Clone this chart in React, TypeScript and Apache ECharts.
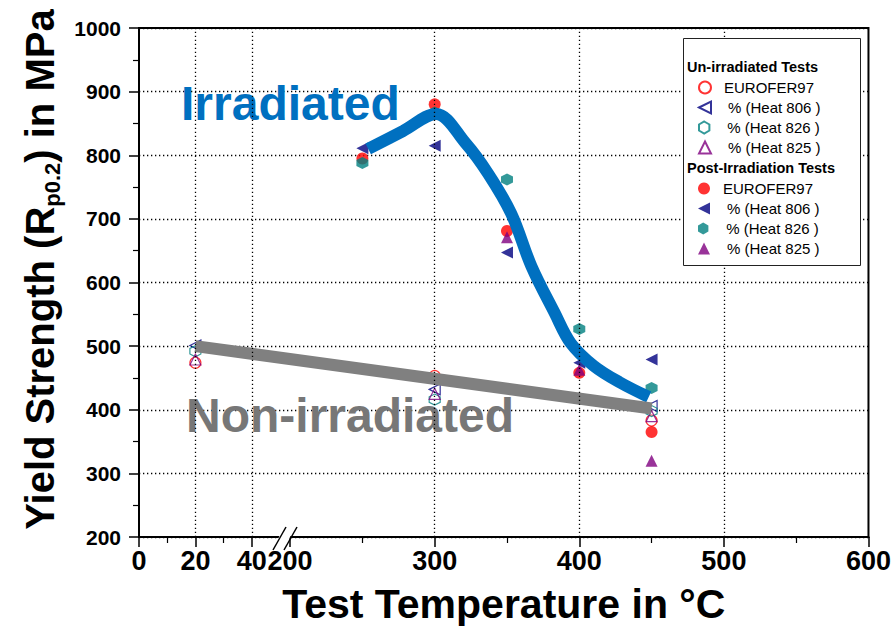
import React, { useEffect, useRef } from 'react';
import * as echarts from 'echarts';

const FONT = '"Liberation Sans", Arial, Helvetica, sans-serif';

// ---- axis ticks ----
const xTickTemps = [0, 20, 40, 200, 300, 400, 500, 600];
const xMinorTemps = [10, 30, 250, 350, 450, 550];
const xGridTemps = [20, 40, 300, 400, 500];
const yMin = 200;
const yMax = 1000;

// ---- un-irradiated tests: [temperature °C, Rp0.2 MPa] ----
const unEurofer = [[20, 474], [300, 453], [450, 383]];
const unHeat806 = [[20, 501], [300, 432], [450, 406]];
const unHeat826 = [[20, 492], [300, 416], [450, 398]];
const unHeat825 = [[20, 479], [300, 425], [450, 390]];

// ---- post-irradiation tests ----
const irEurofer = [[250, 795], [300, 880], [350, 681], [400, 458], [450, 365]];
const irHeat806 = [[250, 811], [300, 815], [350, 647], [400, 474], [450, 479]];
const irHeat826 = [[250, 788], [300, 867], [350, 762], [400, 527], [450, 434]];
const irHeat825 = [[350, 671], [400, 463], [450, 320]];

// ---- trend curves ----
const irradiatedTrendT = [254, 278, 301, 321, 337, 353, 367, 383, 394, 410, 428, 448];
const irradiatedTrendV = [810, 838, 865, 820, 771, 708, 625, 552, 505, 469, 443, 420];
const nonIrrTrendT = [20, 450];
const nonIrrTrendV = [500, 402];

// ---- legend ----
const legendNames = ['u_eur', 'u_806', 'u_826', 'u_825', 'p_eur', 'p_806', 'p_826', 'p_825'];
const legendLabels = [
  'EUROFER97', '% (Heat 806 )', '% (Heat 826 )', '% (Heat 825 )',
  'EUROFER97', '% (Heat 806 )', '% (Heat 826 )', '% (Heat 825 )',
];
const legendRowY = [87, 107, 127, 147, 188, 208, 228, 248];

// broken axis: 0..40 stretched, then 200..600
const LOW_ORIGIN = 95.5;
const LOW_SCALE = 1.95;
const toAxis = (t: number) => (t <= 40 ? LOW_ORIGIN + t * LOW_SCALE : t);
const fromAxis = (v: number) => (v < 190 ? Math.round((v - LOW_ORIGIN) / LOW_SCALE) : Math.round(v));
const mapPts = (pts: number[][]) => pts.map(([t, v]) => [toAxis(t), v]);

const LEFT_TRI = 'path://M0,5L10,0L10,10Z';
const UP_TRI = 'path://M5,0L10,10L0,10Z';
const HEX = 'path://M5,0L9.33,2.5L9.33,7.5L5,10L0.67,7.5L0.67,2.5Z';

const RED = '#ff0000';
const NAVY = '#000080';
const TEAL = '#008080';
const PURPLE = '#800080';

function openSeries(name: string, data: number[][], symbol: string, color: string) {
  return {
    type: 'scatter',
    name,
    data: mapPts(data),
    symbol,
    symbolSize: 11,
    z: 2,
    itemStyle: { color: 'rgba(255,255,255,0)', borderColor: color, borderWidth: 1.2 },
  };
}
function filledSeries(name: string, data: number[][], symbol: string, color: string) {
  return {
    type: 'scatter',
    name,
    data: mapPts(data),
    symbol,
    symbolSize: 12,
    z: 2,
    itemStyle: { color },
  };
}

export default function App() {
  const ref = useRef<HTMLDivElement>(null);
  useEffect(() => {
    if (!ref.current) return;
    const chart = echarts.init(ref.current, undefined, { renderer: 'svg' });
    const legends = legendNames.map((n, i) => ({
      orient: 'vertical',
      left: 698,
      top: legendRowY[i] - 7,
      padding: 0,
      itemWidth: 12,
      itemHeight: 12,
      selectedMode: false,
      z: 7,
      data: [n],
      formatter: () => legendLabels[i],
      textStyle: {
        fontFamily: FONT,
        fontSize: 15,
        color: '#000',
        lineHeight: 14,
        padding: [0, 0, 0, legendLabels[i].startsWith('%') ? 12 : 8],
      },
    }));
    const option: any = {
      animation: false,
      backgroundColor: '#fff',
      grid: {
        left: 139,
        right: 25,
        top: 28,
        bottom: 91,
        show: true,
        borderColor: '#000',
        borderWidth: 2,
        backgroundColor: 'rgba(0,0,0,0)',
      },
      xAxis: [
        {
          type: 'value',
          min: toAxis(0),
          max: 600,
          name: 'Test Temperature in °C',
          nameLocation: 'middle',
          nameGap: 46,
          nameTextStyle: { fontFamily: FONT, fontSize: 41, fontWeight: 'bold', color: '#000' },
          axisLine: { lineStyle: { color: '#000', width: 2 } },
          axisTick: {
            show: true,
            length: 10,
            lineStyle: { color: '#000', width: 1.5 },
            customValues: xTickTemps.map(toAxis),
          },
          axisLabel: {
            customValues: xTickTemps.map(toAxis),
            formatter: (v: number) => String(fromAxis(v)),
            fontFamily: FONT,
            fontSize: 27,
            fontWeight: 'bold',
            color: '#000',
            margin: 10,
          },
          splitLine: { show: false },
        },
        {
          type: 'value',
          min: toAxis(0),
          max: 600,
          position: 'bottom',
          axisLine: { show: false },
          axisLabel: { show: false },
          axisTick: {
            show: true,
            length: 6,
            lineStyle: { color: '#000', width: 1.2 },
            customValues: xMinorTemps.map(toAxis),
          },
          splitLine: { show: false },
        },
      ],
      yAxis: {
        type: 'value',
        min: yMin,
        max: yMax,
        interval: 100,
        name: '{a|Yield Strength (R}{s|p0.2}{a|) in MPa}',
        nameLocation: 'middle',
        nameRotate: 90,
        nameGap: 68,
        nameTextStyle: {
          padding: [0, 0, 0, 26],
          rich: {
            a: { fontFamily: FONT, fontSize: 40, fontWeight: 'bold', color: '#000', lineHeight: 46 },
            s: {
              fontFamily: FONT,
              fontSize: 22,
              fontWeight: 'bold',
              color: '#000',
              lineHeight: 20,
              verticalAlign: 'bottom',
            },
          },
        },
        axisLine: { lineStyle: { color: '#000', width: 2 } },
        axisTick: { length: 10, lineStyle: { color: '#000', width: 1.5 } },
        minorTick: { show: true, splitNumber: 2, length: 6, lineStyle: { color: '#000', width: 1.2 } },
        axisLabel: {
          fontFamily: FONT,
          fontSize: 21,
          fontWeight: 'bold',
          color: '#000',
          margin: 18,
          formatter: (v: number) => String(v),
        },
        splitLine: { show: true, lineStyle: { color: '#000', width: 1.3, type: [1.3, 2.7] } },
      },
      legend: legends,
      graphic: [
        {
          type: 'text',
          z: 1,
          x: 181,
          y: 103,
          style: { text: 'Irradiated', font: `bold 48px ${FONT}`, fill: '#0070c0', verticalAlign: 'middle' },
        },
        {
          type: 'text',
          z: 1,
          x: 186,
          y: 415,
          style: { text: 'Non-irradiated', font: `bold 48px ${FONT}`, fill: '#777777', verticalAlign: 'middle' },
        },
        {
          type: 'rect',
          z: 6,
          shape: { x: 683.5, y: 38.5, width: 177, height: 227 },
          style: { fill: '#fff', stroke: '#222', lineWidth: 1 },
        },
        {
          type: 'text',
          z: 7,
          x: 687,
          y: 67,
          style: { text: 'Un-irradiated Tests', font: `bold 14.5px ${FONT}`, fill: '#000', verticalAlign: 'middle' },
        },
        {
          type: 'text',
          z: 7,
          x: 687,
          y: 168,
          style: { text: 'Post-Irradiation Tests', font: `bold 14.5px ${FONT}`, fill: '#000', verticalAlign: 'middle' },
        },
        {
          type: 'polygon',
          z: 8,
          shape: { points: [[276, 543], [287, 543], [292, 533], [281, 533]] },
          style: { fill: '#fff' },
        },
        {
          type: 'line',
          z: 9,
          shape: { x1: 273, y1: 550, x2: 286, y2: 527 },
          style: { stroke: '#000', lineWidth: 1.5 },
        },
        {
          type: 'line',
          z: 9,
          shape: { x1: 284, y1: 550, x2: 297, y2: 527 },
          style: { stroke: '#000', lineWidth: 1.5 },
        },
      ],
      series: [
        {
          ...openSeries('u_eur', unEurofer, 'circle', RED),
          markLine: {
            silent: true,
            symbol: ['none', 'none'],
            label: { show: false },
            lineStyle: { color: '#000', width: 1.3, type: [1.3, 2.7] },
            data: xGridTemps.map((t) => ({ xAxis: toAxis(t) })),
          },
        },
        openSeries('u_806', unHeat806, LEFT_TRI, NAVY),
        openSeries('u_826', unHeat826, HEX, TEAL),
        openSeries('u_825', unHeat825, UP_TRI, PURPLE),
        filledSeries('p_eur', irEurofer, 'circle', RED),
        filledSeries('p_806', irHeat806, LEFT_TRI, NAVY),
        filledSeries('p_826', irHeat826, HEX, TEAL),
        filledSeries('p_825', irHeat825, UP_TRI, PURPLE),
        {
          type: 'line',
          name: 'Irradiated trend',
          z: 3,
          smooth: 0.35,
          showSymbol: false,
          symbol: 'none',
          data: irradiatedTrendT.map((t, i) => [toAxis(t), irradiatedTrendV[i]]),
          lineStyle: { color: '#0070c0', width: 12, cap: 'butt' },
        },
        {
          type: 'line',
          name: 'Non-irradiated trend',
          z: 3,
          showSymbol: false,
          symbol: 'none',
          data: nonIrrTrendT.map((t, i) => [toAxis(t), nonIrrTrendV[i]]),
          lineStyle: { color: '#808080', width: 12, cap: 'butt' },
        },
      ],
    };
    chart.setOption(option);
    return () => chart.dispose();
  }, []);
  return (
    <div
      ref={ref}
      style={{ position: 'fixed', left: 0, top: 0, width: 894, height: 629, background: '#fff' }}
    />
  );
}
